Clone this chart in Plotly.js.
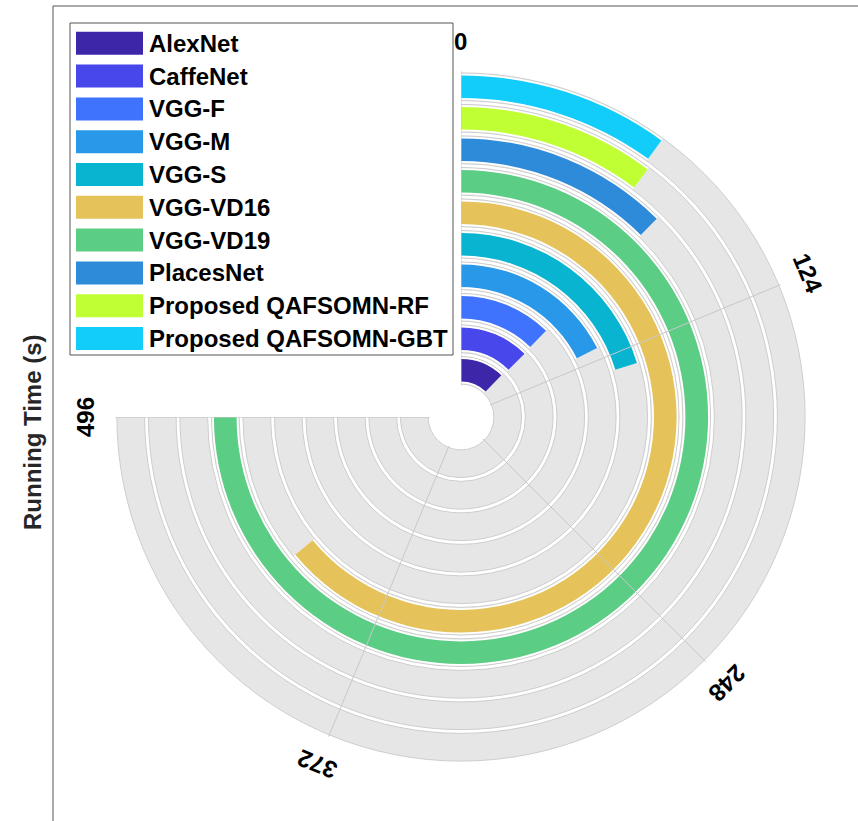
<!DOCTYPE html>
<html>
<head>
<meta charset="utf-8">
<script src="https://cdn.plot.ly/plotly-3.0.1.min.js"></script>
<style>
  html, body { margin: 0; padding: 0; background: #ffffff; }
  #chart { width: 858px; height: 821px; }
</style>
</head>
<body>
<div id="chart"></div>
<script>
// ---------- data ----------
const models = ['AlexNet', 'CaffeNet', 'VGG-F', 'VGG-M', 'VGG-S', 'VGG-VD16', 'VGG-VD19',
                'PlacesNet', 'Proposed QAFSOMN-RF', 'Proposed QAFSOMN-GBT'];
const runTimes = [81, 83, 82, 116, 134, 423, 496, 82, 68, 66];
const barColors = ['#3e26a8', '#4747eb', '#3f72fd', '#2a98e8', '#08b4cf', '#e6c35a',
                   '#5ccd85', '#2e8bd9', '#c0ff33', '#12cdf9'];
const tickVals = [0, 124, 248, 372, 496];
const tickText = ['0', '124', '248', '372', '496'];
const axisMax = 496;
const yLabel = 'Running Time (s)';

// ---------- geometry / style ----------
const W = 858, H = 821;
const cx = 461, cy = 417, R = 346, holePx = 31;
const sweep = 270;                 // angular span used for 0..axisMax
const nRings = models.length;
const trackGap = 0.06;             // radial units on each side of a track
const barInset = 0.14;             // radial units on each side of a bar
const toDeg = v => v * sweep / axisMax;
const FONT = 'Liberation Sans, Arial, Helvetica, sans-serif';

const ringIdx = models.map((m, i) => i);
const traces = [];

// background tracks (full span)
traces.push({
  type: 'barpolar',
  r: ringIdx.map(() => 1 - 2 * trackGap),
  base: ringIdx.map(i => i + trackGap),
  theta: ringIdx.map(() => sweep / 2),
  width: ringIdx.map(() => sweep),
  marker: { color: '#e6e6e6', line: { color: '#cdcdcd', width: 1 } },
  showlegend: false, hoverinfo: 'skip'
});
// white backing under each bar (gives the white margins along the bar)
traces.push({
  type: 'barpolar',
  r: ringIdx.map(() => 1 - 2 * trackGap - 0.05),
  base: ringIdx.map(i => i + trackGap + 0.025),
  theta: runTimes.map(v => toDeg(v) / 2),
  width: runTimes.map(v => toDeg(v)),
  marker: { color: '#ffffff', line: { width: 0 } },
  showlegend: false, hoverinfo: 'skip'
});
// coloured bars, one trace per model
models.forEach((m, i) => {
  traces.push({
    type: 'barpolar',
    name: m,
    r: [1 - 2 * barInset],
    base: [i + barInset],
    theta: [toDeg(runTimes[i]) / 2],
    width: [toDeg(runTimes[i])],
    marker: { color: barColors[i], line: { width: 0 } },
    showlegend: false, hoverinfo: 'skip'
  });
});
// angular grid lines drawn above the bars
const gr = [], gt = [];
tickVals.forEach(t => { gr.push(0, nRings, null); gt.push(toDeg(t), toDeg(t), null); });
traces.push({
  type: 'scatterpolar', mode: 'lines', r: gr, theta: gt,
  line: { color: '#c8c8c8', width: 1 }, showlegend: false, hoverinfo: 'skip'
});

// ---------- annotations & shapes ----------
const annotations = [];
const shapes = [];
const px = x => x / W, py = y => 1 - y / H;

// tick labels, rotated tangentially
const labelR = 376;
tickVals.forEach((t, i) => {
  const a = toDeg(t);
  const rad = a * Math.PI / 180;
  let ang = a; if (ang > 180) ang -= 360;
  annotations.push({
    xref: 'paper', yref: 'paper',
    x: px(cx + labelR * Math.sin(rad)), y: py(cy - labelR * Math.cos(rad)),
    text: tickText[i], showarrow: false, textangle: ang,
    xanchor: 'center', yanchor: 'middle',
    font: { family: FONT, size: 24, color: '#000000', weight: 'bold' }
  });
});

// y label
annotations.push({
  xref: 'paper', yref: 'paper', x: px(32), y: py(432),
  text: '<b>' + yLabel + '</b>', showarrow: false, textangle: -90,
  xanchor: 'center', yanchor: 'middle',
  font: { family: FONT, size: 24, color: '#262626' }
});

// axes box remnants (top and left edges)
shapes.push({ type: 'line', xref: 'paper', yref: 'paper', x0: px(53), x1: px(858), y0: py(6), y1: py(6),
              line: { color: '#555555', width: 1 } });
shapes.push({ type: 'line', xref: 'paper', yref: 'paper', x0: px(53), x1: px(53), y0: py(6), y1: py(821),
              line: { color: '#555555', width: 1 } });

// legend box
const legL = 70, legR = 453, legT = 23, legB = 355;
shapes.push({ type: 'rect', xref: 'paper', yref: 'paper', x0: px(legL), x1: px(legR), y0: py(legB), y1: py(legT),
              fillcolor: '#ffffff', line: { color: '#555555', width: 1 } });
const legY0 = 43.3, legStep = 32.8, swH = 23;
models.forEach((m, i) => {
  const yc = legY0 + i * legStep;
  shapes.push({ type: 'rect', xref: 'paper', yref: 'paper', x0: px(76), x1: px(143),
                y0: py(yc + swH / 2), y1: py(yc - swH / 2),
                fillcolor: barColors[i], line: { width: 0 } });
  annotations.push({
    xref: 'paper', yref: 'paper', x: px(147), y: py(yc),
    text: '<b>' + m + '</b>', showarrow: false, xanchor: 'left', yanchor: 'middle',
    font: { family: FONT, size: 24, color: '#000000' }
  });
});

const layout = {
  width: W, height: H,
  margin: { l: 0, r: 0, t: 0, b: 0 },
  paper_bgcolor: '#ffffff',
  font: { family: FONT },
  showlegend: false,
  hovermode: false,
  polar: {
    domain: { x: [px(cx - R), px(cx + R)], y: [py(cy + R), py(cy - R)] },
    sector: [-180, 90],
    hole: holePx / R,
    barmode: 'overlay',
    bgcolor: 'rgba(0,0,0,0)',
    radialaxis: { visible: false, range: [0, nRings] },
    angularaxis: { direction: 'clockwise', rotation: 90, showgrid: false, showline: false,
                   showticklabels: false, ticks: '' }
  },
  shapes: shapes,
  annotations: annotations
};

Plotly.newPlot('chart', traces, layout, { staticPlot: true, displayModeBar: false });
</script>
</body>
</html>
